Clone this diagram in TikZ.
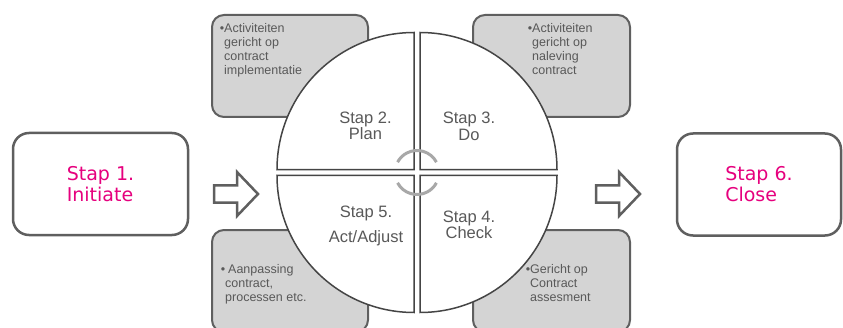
\documentclass[tikz,border=0pt]{standalone}
\usepackage{fontspec}
\usetikzlibrary{positioning,calc}
\newfontfamily\stepfont{DejaVu Sans}
\newfontfamily\notefont{Liberation Sans}
\definecolor{stepmagenta}{HTML}{E6007E}
\definecolor{outlinegray}{HTML}{5F5F5F}
\definecolor{notegray}{HTML}{D4D4D4}
\definecolor{textgray}{HTML}{595959}
\definecolor{quadgray}{HTML}{454545}
\definecolor{ringgray}{HTML}{A8A8A8}
\begin{document}
\begin{tikzpicture}[x=1pt,y=1pt]
    \tikzset{
        stepbox/.style={draw=outlinegray, line width=2.5pt, rounded corners=16pt, fill=white,
            minimum height=102pt, align=left, inner sep=0pt, text=stepmagenta,
            font=\stepfont\fontsize{19}{21}\selectfont},
        notebox/.style={draw=outlinegray, line width=2pt, rounded corners=12pt, fill=notegray,
            minimum width=156pt, minimum height=102pt, inner sep=0pt},
        notetext/.style={anchor=north west, align=left, inner sep=0pt, text=textgray,
            font=\notefont\fontsize{12.5}{14}\selectfont},
        quadrant/.style={draw=quadgray, line width=1.5pt, fill=white},
        quadlabel/.style={align=center, inner sep=0pt, text=textgray,
            font=\notefont\fontsize{16.5}{15}\selectfont},
        ring/.style={draw=ringgray, line width=3pt},
        blockarrow/.style={draw=outlinegray, line width=2.5pt, fill=white, line join=miter}
    }
    \useasboundingbox (0,0) rectangle (843,327);
    \clip (0,0) rectangle (843,327);

    \draw node[stepbox, minimum width=175pt] (initiate) at (100.5,143) {Stap 1.\\Initiate};
    \draw node[stepbox, minimum width=164pt] (close) at (759,142.5) {Stap 6.\\Close};

    \draw node[notebox] (plannote) at (290,261) {};
    \draw node[notebox, minimum width=157pt] (donote) at (551.5,261) {};
    \draw node[notebox] (actnote) at (290,46) {};
    \draw node[notebox, minimum width=157pt] (checknote) at (551.5,46) {};

    \node[notetext] (plantext) at ([xshift=13pt, yshift=-9pt]plannote.north west)
        {\llap{•}Activiteiten\\gericht op\\contract\\implementatie};
    \node[notetext] (dotext) at ([xshift=60pt, yshift=-9pt]donote.north west)
        {\llap{•}Activiteiten\\gericht op\\naleving\\contract};
    \node[notetext] (acttext) at ([xshift=14pt, yshift=-35pt]actnote.north west)
        {\llap{•}\hspace{3pt}Aanpassing\\contract,\\processen etc.};
    \node[notetext] (checktext) at ([xshift=58pt, yshift=-35pt]checknote.north west)
        {\llap{•}Gericht op\\Contract\\assesment};

    \coordinate (hub) at (417,154.5);
    \foreach \a in {0,90,180,270}{
        \draw[quadrant] ($(hub)+(\a+45:4.24)$) -- ++(\a:137) arc (\a:\a+90:137) -- cycle;
    }
    \draw[ring] ($(hub)+(28:22)$) arc (28:152:22);
    \draw[ring] ($(hub)+(208:22)$) arc (208:332:22);

    \node[quadlabel] (plan) at (365.5,201) {Stap 2.\\Plan};
    \node[quadlabel] (do) at (469,201) {Stap 3.\\[2pt]Do};
    \node[quadlabel] (act) at (366,101) {Stap 5.\\[8pt]Act/Adjust};
    \node[quadlabel] (check) at (469,102) {Stap 4.\\Check};

    \coordinate (inarrow) at (214,133);
    \coordinate (outarrow) at (596,133);
    \foreach \p in {inarrow,outarrow}{
        \draw[blockarrow] (\p) ++(0,-8.5) -- ++(23,0) -- ++(0,-13.5) -- ++(21,22)
            -- ++(-21,22) -- ++(0,-13.5) -- ++(-23,0) -- cycle;
    }
\end{tikzpicture}
\end{document}
